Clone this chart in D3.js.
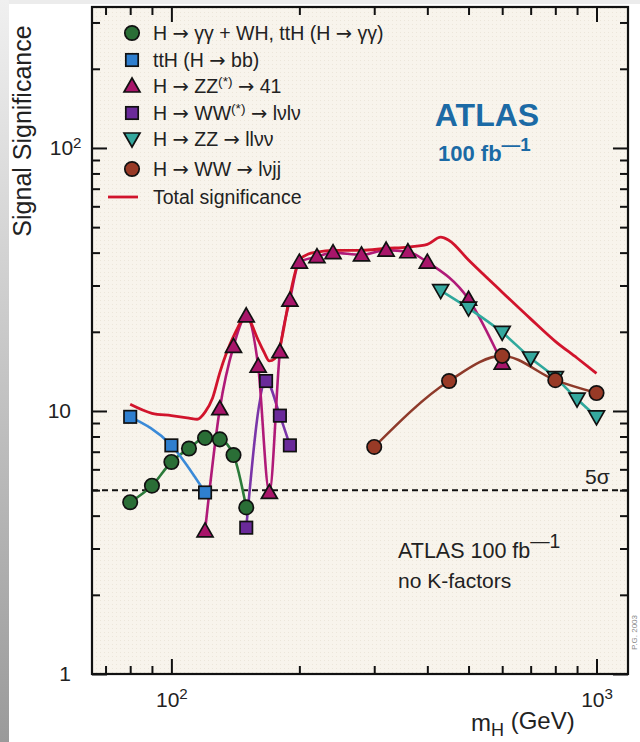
<!DOCTYPE html>
<html><head><meta charset="utf-8">
<script src="https://cdn.jsdelivr.net/npm/d3@7"></script>
<style>
html,body{margin:0;padding:0;background:#fff;}
svg{display:block;font-family:"Liberation Sans",Arial,Helvetica,sans-serif;}
</style></head>
<body>
<svg id="c" width="640" height="742"></svg>
<script>
// ---- data ----
const gamMass = [80, 90, 100, 110, 120, 130, 140, 150];
const gamSig  = [4.5, 5.2, 6.4, 7.2, 7.9, 7.8, 6.8, 4.3];
const ttbbMass = [80, 100, 120];
const ttbbSig  = [9.5, 7.4, 4.9];
const zz4lMass = [120, 130, 140, 150, 160, 170, 180, 190, 200, 220, 240, 280, 320, 360, 400, 500, 600];
const zz4lSig  = [3.5, 10.2, 17.6, 23.0, 14.8, 4.9, 16.8, 26.4, 36.8, 38.6, 40.0, 39.2, 40.9, 40.3, 36.8, 26.6, 15.2];
const wwMass = [150, 167, 180, 190];
const wwSig  = [3.6, 13.0, 9.6, 7.4];
const zzvvMass = [430, 500, 600, 700, 800, 900, 1000];
const zzvvSig  = [28.7, 24.6, 19.9, 15.9, 13.4, 11.1, 9.5];
const wwjjMass = [300, 450, 600, 800, 1000];
const wwjjSig  = [7.3, 13.0, 16.2, 13.1, 11.7];
const totMass = [80, 90, 100, 110, 115, 120, 125, 130, 140, 150, 160, 165, 170, 175, 180, 190, 200, 210, 220, 240, 280, 320, 360, 400, 430, 450, 500, 600, 700, 800, 900, 1000];
const totSig  = [10.6, 9.8, 9.6, 9.4, 9.3, 9.9, 11.2, 14.0, 19.2, 22.8, 18.6, 16.8, 15.5, 15.8, 17.6, 27.5, 37.5, 39.5, 40.2, 40.8, 40.8, 41.5, 42.0, 43.0, 45.8, 44.5, 37.5, 28.3, 22.4, 18.4, 15.9, 13.9];
const fiveSigma = 5;
const xMajor = [100, 1000];
const xMinor = [70, 80, 90, 200, 300, 400, 500, 600, 700, 800, 900];
const yMajor = [1, 10, 100];
const yMinor = [2, 3, 4, 5, 6, 7, 8, 9, 20, 30, 40, 50, 60, 70, 80, 90, 200, 300];
const legendLabels = ["H → γγ + WH, ttH (H → γγ)", "ttH (H → bb)", "H → ZZ|(*)| → 41", "H → WW|(*)| → lνlν", "H → ZZ → llνν", "H → WW → lνjj", "Total significance"];

// ---- layout ----
const L = 92, R = 628, T = 7, B = 674;
const svg = d3.select("#c");
const x = d3.scaleLog().domain([65.05, 1186]).range([L, R]);
const y = d3.scaleLog().domain([1, 343.5]).range([B, T]);

// page decorations
const defs = svg.append("defs");
const lg = defs.append("linearGradient").attr("id", "lg").attr("x1", 0).attr("x2", 0).attr("y1", 0).attr("y2", 1);
lg.append("stop").attr("offset", 0).attr("stop-color", "#f0f0f0");
lg.append("stop").attr("offset", 1).attr("stop-color", "#9a9a9a");
const pat = defs.append("pattern").attr("id", "dots").attr("width", 4).attr("height", 4).attr("patternUnits", "userSpaceOnUse");
pat.append("rect").attr("width", 4).attr("height", 4).attr("fill", "#f8f4ec");
pat.append("rect").attr("width", 1).attr("height", 1).attr("fill", "#ece6da");
svg.append("rect").attr("x", 0).attr("y", 0).attr("width", 640).attr("height", 4).attr("fill", "#ececec");
svg.append("rect").attr("x", 0).attr("y", 0).attr("width", 9).attr("height", 742).attr("fill", "url(#lg)");

// plot area
svg.append("rect").attr("x", L).attr("y", T).attr("width", R - L).attr("height", B - T).attr("fill", "url(#dots)");

// axes ticks (inward on all four sides)
function tickAxis(axisFn, scale, vals, size, tr) {
  const g = svg.append("g").attr("transform", tr)
    .call(axisFn(scale).tickValues(vals).tickSize(size).tickFormat(""));
  g.select(".domain").remove();
  g.selectAll(".tick line").attr("stroke", "#111").attr("stroke-width", 2);
  return g;
}
tickAxis(d3.axisBottom, x, xMajor, -15, `translate(0,${B})`);
tickAxis(d3.axisBottom, x, xMinor, -8, `translate(0,${B})`);
tickAxis(d3.axisTop, x, xMajor, -15, `translate(0,${T})`);
tickAxis(d3.axisTop, x, xMinor, -8, `translate(0,${T})`);
tickAxis(d3.axisLeft, y, yMajor, -15, `translate(${L},0)`);
tickAxis(d3.axisLeft, y, yMinor, -8, `translate(${L},0)`);
tickAxis(d3.axisRight, y, yMajor, -15, `translate(${R},0)`);
tickAxis(d3.axisRight, y, yMinor, -8, `translate(${R},0)`);

// tick labels via axes
const xl = svg.append("g").attr("transform", `translate(0,${B})`)
  .call(d3.axisBottom(x).tickValues(xMajor).tickSize(0).tickPadding(18));
xl.select(".domain").remove();
xl.selectAll(".tick text").attr("font-size", 21).attr("fill", "#222")
  .attr("font-family", "Liberation Sans, Arial, sans-serif")
  .each(function (d) {
    const t = d3.select(this); t.text(null);
    t.append("tspan").text("10");
    t.append("tspan").attr("dy", "-0.5em").attr("font-size", "0.72em").text(String(Math.round(Math.log10(d))));
  });
const yl = svg.append("g").attr("transform", `translate(${L},0)`)
  .call(d3.axisLeft(y).tickValues(yMajor).tickSize(0).tickPadding(21));
yl.select(".domain").remove();
yl.selectAll(".tick text").attr("font-size", 21).attr("fill", "#222")
  .attr("font-family", "Liberation Sans, Arial, sans-serif")
  .each(function (d) {
    const t = d3.select(this); t.text(null);
    if (d === 100) {
      t.attr("dx", "0.5em");
      t.append("tspan").text("10");
      t.append("tspan").attr("dy", "-0.5em").attr("font-size", "0.72em").text("2");
    } else t.text(String(d));
  });

// 5 sigma line
svg.append("line").attr("x1", L).attr("x2", R).attr("y1", y(fiveSigma)).attr("y2", y(fiveSigma))
  .attr("stroke", "#111").attr("stroke-width", 2).attr("stroke-dasharray", "6,4");

// series
const series = [
  {m: gamMass, s: gamSig, line: "#2b7a3a", fill: "#2a6e36", sym: "circle"},
  {m: ttbbMass, s: ttbbSig, line: "#3a8ad8", fill: "#2f7fcf", sym: "square"},
  {m: wwMass, s: wwSig, line: "#7a35a8", fill: "#6a2a9a", sym: "square"},
  {m: zz4lMass, s: zz4lSig, line: "#b01a78", fill: "#a8156a", sym: "tri"},
  {m: zzvvMass, s: zzvvSig, line: "#2fa89c", fill: "#35a89e", sym: "itri"},
  {m: wwjjMass, s: wwjjSig, line: "#8e3a2a", fill: "#983a26", sym: "circle"}
];
const lineGen = d3.line().curve(d3.curveMonotoneX);
function drawSym(g, sym, cx, cy, fill) {
  if (sym === "circle") g.append("circle").attr("cx", cx).attr("cy", cy).attr("r", 7.2);
  else if (sym === "square") g.append("rect").attr("x", cx - 6.2).attr("y", cy - 6.2).attr("width", 12.4).attr("height", 12.4);
  else if (sym === "tri") g.append("path").attr("d", `M${cx},${cy - 8}L${cx + 8},${cy + 6}L${cx - 8},${cy + 6}Z`);
  else g.append("path").attr("d", `M${cx},${cy + 8}L${cx + 8},${cy - 6}L${cx - 8},${cy - 6}Z`);
  g.selectAll(":last-child").attr("fill", fill).attr("stroke", "#111").attr("stroke-width", 1.7);
}
// lines first
series.forEach(sr => {
  const pts = sr.m.map((m, i) => [x(m), y(sr.s[i])]);
  svg.append("path").attr("d", lineGen(pts)).attr("fill", "none").attr("stroke", sr.line).attr("stroke-width", 2.6);
});
// total significance
svg.append("path").attr("d", lineGen(totMass.map((m, i) => [x(m), y(totSig[i])])))
  .attr("fill", "none").attr("stroke", "#d1142c").attr("stroke-width", 2.8);
// markers
series.forEach(sr => {
  const g = svg.append("g");
  sr.m.forEach((m, i) => drawSym(g, sr.sym, x(m), y(sr.s[i]), sr.fill));
});

// helper: append a string, rendering arrows with a font that has a proper long arrow
function appendRich(t, str, extra) {
  str.split(/(→)/).forEach(seg => {
    if (!seg) return;
    const sp = t.append("tspan").text(seg);
    if (seg === "→") sp.attr("font-family", "DejaVu Sans");
    if (extra) extra(sp);
  });
}

// legend
const legY = [33, 60, 86, 113, 139, 169, 197];
const legSym = [series[0], series[1], series[3], series[2], series[4], series[5]];
const lg2 = svg.append("g");
legSym.forEach((sr, i) => drawSym(lg2, sr.sym, 132, legY[i], sr.fill));
lg2.append("line").attr("x1", 108).attr("x2", 138).attr("y1", legY[6]).attr("y2", legY[6]).attr("stroke", "#d1142c").attr("stroke-width", 2.8);
legendLabels.forEach((lab, i) => {
  const t = svg.append("text").attr("x", 153).attr("y", legY[i] + 7).attr("font-size", 19.5).attr("fill", "#222");
  lab.split("|").forEach((part, k) => {
    if (k === 1) t.append("tspan").attr("dy", "-0.5em").attr("font-size", "0.7em").text(part);
    else if (k === 2) { let first = true; appendRich(t, part, sp => { if (first) { sp.attr("dy", "0.35em"); first = false; } }); }
    else appendRich(t, part);
  });
});

// ATLAS label
svg.append("text").attr("x", 487).attr("y", 126).attr("text-anchor", "middle").attr("font-size", 32)
  .attr("font-weight", "bold").attr("fill", "#1b6aa5").text("ATLAS");
const lum = svg.append("text").attr("x", 438).attr("y", 161).attr("font-size", 22).attr("font-weight", "bold").attr("fill", "#1b6aa5");
lum.append("tspan").text("100 fb");
lum.append("tspan").attr("dy", "-0.55em").attr("font-size", "0.85em").text("—1");

// 5 sigma label
svg.append("text").attr("x", 585).attr("y", 484).attr("font-size", 21).attr("fill", "#222").text("5σ");

// bottom-right annotation
const an = svg.append("text").attr("x", 398).attr("y", 558).attr("font-size", 21.5).attr("fill", "#222");
an.append("tspan").text("ATLAS 100 fb");
an.append("tspan").attr("dy", "-0.5em").attr("font-size", "0.9em").text("—1");
svg.append("text").attr("x", 398).attr("y", 588).attr("font-size", 21).attr("fill", "#222").text("no K-factors");

// frame
svg.append("rect").attr("x", L).attr("y", T).attr("width", R - L).attr("height", B - T)
  .attr("fill", "none").attr("stroke", "#111").attr("stroke-width", 2.2);

// axis titles
svg.append("text").attr("transform", `translate(31,131) rotate(-90)`).attr("text-anchor", "middle")
  .attr("font-size", 25).attr("fill", "#222").text("Signal Significance");
const xt = svg.append("text").attr("x", 471).attr("y", 731).attr("font-size", 24).attr("fill", "#222");
xt.append("tspan").text("m");
xt.append("tspan").attr("dy", "0.3em").attr("font-size", "0.75em").text("H");
xt.append("tspan").attr("dy", "-0.3em").text(" (GeV)");

// faint side credit
svg.append("text").attr("transform", "translate(637,650) rotate(-90)").attr("font-size", 8).attr("fill", "#888").text("P.G. 2003");
</script>
</body></html>
